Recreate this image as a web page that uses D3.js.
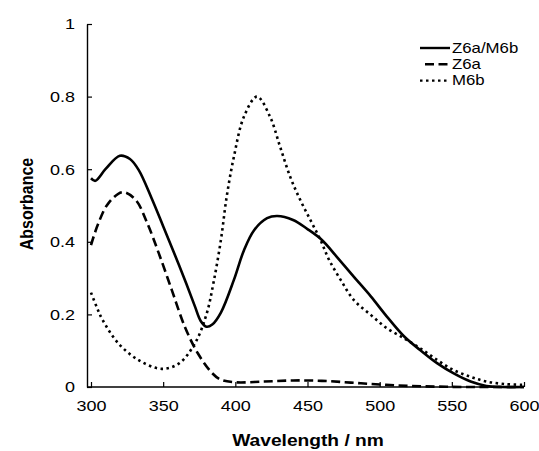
<!DOCTYPE html>
<html>
<head>
<meta charset="utf-8">
<script src="https://cdn.jsdelivr.net/npm/d3@7"></script>
<style>
  body { margin: 0; background: #fff; }
  text { font-family: "Liberation Sans", Arial, sans-serif; fill: #000; }
</style>
</head>
<body>
<div id="chart"></div>
<script>
// series names (legend order)
var seriesNames = ["Z6a/M6b", "Z6a", "M6b"];

// Z6a/M6b (solid)
var mixWl  = [300, 303, 310, 320, 327, 333, 342, 350, 358, 366, 372, 376, 380, 384, 390, 399, 406, 413, 422, 429, 440, 450, 460, 470, 482, 494, 505, 517, 528, 540, 551, 563, 574, 585, 600];
var mixAbs = [0.575, 0.568, 0.60, 0.637, 0.628, 0.598, 0.52, 0.443, 0.365, 0.285, 0.222, 0.182, 0.166, 0.172, 0.205, 0.295, 0.377, 0.432, 0.465, 0.471, 0.46, 0.435, 0.405, 0.36, 0.304, 0.249, 0.194, 0.139, 0.102, 0.065, 0.038, 0.015, 0.003, 0, 0];

// Z6a (dashed)
var z6aWl  = [300, 305, 312, 322, 331, 339, 347, 356, 365, 374, 384, 390, 400, 420, 440, 460, 480, 500, 520, 540, 560, 600];
var z6aAbs = [0.391, 0.45, 0.506, 0.537, 0.515, 0.451, 0.368, 0.267, 0.166, 0.093, 0.038, 0.02, 0.013, 0.015, 0.018, 0.017, 0.012, 0.007, 0.003, 0.001, 0, 0];

// M6b (dotted)
var m6bWl  = [300, 304, 308, 319, 333, 349, 361, 372, 380, 385, 390, 394, 399, 406, 415, 424, 431, 438, 445, 452, 459, 465, 473, 482, 494, 505, 517, 528, 540, 551, 563, 574, 587, 600];
var m6bAbs = [0.26, 0.22, 0.185, 0.12, 0.074, 0.05, 0.065, 0.12, 0.2, 0.29, 0.405, 0.524, 0.634, 0.745, 0.80, 0.745, 0.662, 0.579, 0.515, 0.46, 0.405, 0.35, 0.295, 0.24, 0.198, 0.162, 0.134, 0.107, 0.074, 0.047, 0.028, 0.015, 0.008, 0.006];

var xTicks = [300, 350, 400, 450, 500, 550, 600];
var yTicks = [0, 0.2, 0.4, 0.6, 0.8, 1];

var width = 539, height = 451;
var stretch = 1.2; // the picture's text is a bit wide

var svg = d3.select("#chart").append("svg")
    .attr("width", width)
    .attr("height", height);

var x = d3.scaleLinear().domain([300, 600]).range([91, 524]);
var y = d3.scaleLinear().domain([0, 1]).range([387, 24]);
var axisX = 87;

// x axis
var gx = svg.append("g")
    .attr("transform", "translate(0," + y(0) + ")")
    .call(d3.axisBottom(x).tickValues(xTicks).tickSizeInner(-5).tickSizeOuter(0));
gx.select(".domain").remove();
gx.append("line")
    .attr("x1", axisX).attr("x2", x(600))
    .attr("stroke", "#000").attr("stroke-width", 1.4);
gx.selectAll(".tick line").attr("stroke", "#000").attr("stroke-width", 1.2);
gx.selectAll(".tick text")
    .attr("y", 0).attr("dy", 0)
    .attr("transform", "translate(0,23.5) scale(" + stretch + ",1)")
    .style("font-size", "15px");

// y axis
var gy = svg.append("g")
    .attr("transform", "translate(" + axisX + ",0)")
    .call(d3.axisLeft(y).tickValues(yTicks).tickFormat(d3.format("~g")).tickSizeInner(-5).tickSizeOuter(0));
gy.select(".domain").attr("stroke", "#000").attr("stroke-width", 1.4);
gy.selectAll(".tick line").attr("stroke", "#000").attr("stroke-width", 1.2);
gy.selectAll(".tick text")
    .attr("x", 0)
    .attr("transform", "translate(-12,0) scale(" + stretch + ",1)")
    .style("font-size", "15px");
svg.selectAll(".tick text").attr("font-family", null);

// axis titles
svg.append("text")
    .attr("transform", "translate(308,446) scale(" + stretch + ",1)")
    .attr("text-anchor", "middle")
    .style("font-size", "16px").style("font-weight", "bold")
    .text("Wavelength / nm");

svg.append("text")
    .attr("transform", "translate(33,204) scale(" + stretch + ",1) rotate(-90)")
    .attr("text-anchor", "middle")
    .style("font-size", "16px").style("font-weight", "bold")
    .text("Absorbance");

// curves
var line = d3.line()
    .x(function(d) { return x(d[0]); })
    .y(function(d) { return y(d[1]); })
    .curve(d3.curveCatmullRom.alpha(0.5));

var styles = [
  { wl: mixWl, abs: mixAbs, dash: null },
  { wl: z6aWl, abs: z6aAbs, dash: "9,4.5" },
  { wl: m6bWl, abs: m6bAbs, dash: "2.5,3.5" }
];

styles.forEach(function(s) {
  svg.append("path")
      .datum(d3.zip(s.wl, s.abs))
      .attr("d", line)
      .attr("fill", "none")
      .attr("stroke", "#000")
      .attr("stroke-width", 2.6)
      .attr("stroke-dasharray", s.dash);
});

// legend
var legend = svg.append("g").attr("transform", "translate(420,48)");
var row = legend.selectAll("g")
    .data(seriesNames)
  .enter().append("g")
    .attr("transform", function(d, i) { return "translate(0," + (i * 16.3) + ")"; });

row.append("line")
    .attr("x1", function(d, i) { return i == 1 ? 5 : 0; })
    .attr("x2", 30)
    .attr("stroke", "#000")
    .attr("stroke-width", 2.4)
    .attr("stroke-dasharray", function(d, i) { return styles[i].dash; });

row.append("text")
    .attr("transform", "translate(32,4.5) scale(" + stretch + ",1)")
    .style("font-size", "14px")
    .text(function(d) { return d; });
</script>
</body>
</html>
